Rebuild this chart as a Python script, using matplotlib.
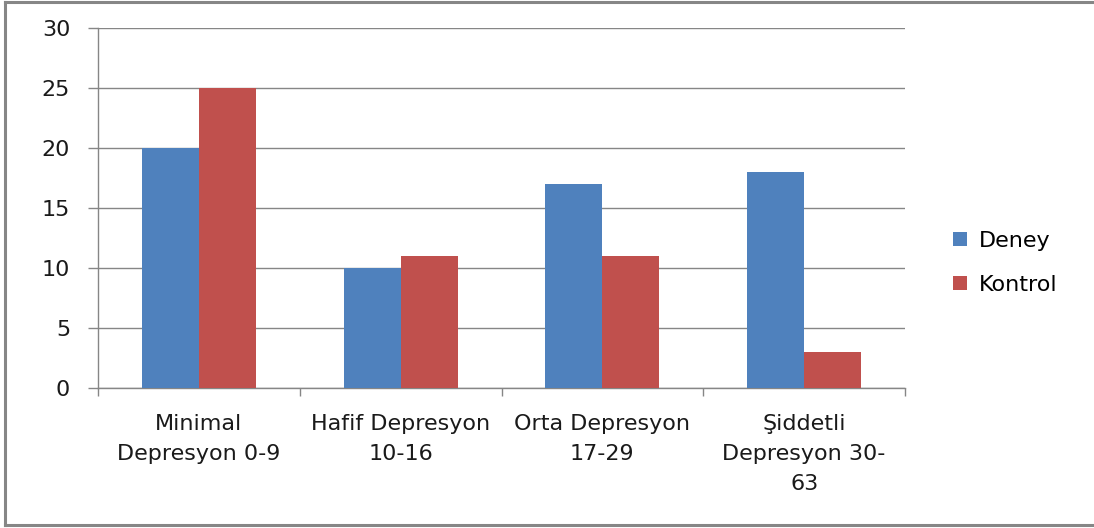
import matplotlib
matplotlib.use("Agg")
import matplotlib.pyplot as plt
from matplotlib.lines import Line2D
from matplotlib.patches import Patch
import numpy as np

categories = ["Minimal\nDepresyon 0-9", "Hafif Depresyon\n10-16", "Orta Depresyon\n17-29",
              "Şiddetli\nDepresyon 30-\n63"]
deney = [20, 10, 17, 18]
kontrol = [25, 11, 11, 3]
series_names = ["Deney", "Kontrol"]
yticks = [0, 5, 10, 15, 20, 25, 30]

blue = "#4F81BD"
red = "#C0504D"
grey = "#868686"
txt = "#1a1a1a"
fs = 16

plt.rcParams["font.family"] = ["DejaVu Sans"]

fig = plt.figure(figsize=(10.94, 5.28), dpi=100)
ax = fig.add_axes([98 / 1094, 1 - 388 / 528, (905 - 98) / 1094, (388 - 28) / 528])

x = np.arange(len(categories))
w = 0.283
ax.bar(x - w / 2, deney, width=w, color=blue, zorder=3)
ax.bar(x + w / 2, kontrol, width=w, color=red, zorder=3)

ax.set_xlim(-0.5, len(categories) - 0.5)
ax.set_ylim(0, 30)
ax.set_yticks(yticks)
ax.set_yticklabels([str(v) for v in yticks], fontsize=fs, color=txt)
ax.yaxis.grid(True, color=grey, linewidth=1.0, zorder=0)

# category boundaries carry the tick marks, labels sit at the centres
ax.set_xticks(np.arange(len(categories) + 1) - 0.5)
ax.set_xticklabels([])
ax.set_xticks(x, minor=True)
ax.set_xticklabels(categories, minor=True, fontsize=fs, color=txt, linespacing=1.6)
ax.tick_params(axis="x", which="major", length=6, color=grey, width=1)
ax.tick_params(axis="x", which="minor", length=0, pad=19)
ax.tick_params(axis="y", length=7, color=grey, width=1, pad=13)

for s in ("top", "right"):
    ax.spines[s].set_visible(False)
for s in ("left", "bottom"):
    ax.spines[s].set_color(grey)
    ax.spines[s].set_linewidth(1.0)

handles = [Patch(facecolor=blue), Patch(facecolor=red)]
fig.legend(handles, series_names, loc="center left", bbox_to_anchor=(0.853, 0.502),
           frameon=False, fontsize=fs, handlelength=0.6, handleheight=0.6,
           handletextpad=0.55, labelspacing=1.05)

# chart frame
fW, fH = 1094, 528
for (x0, y0, x1, y1) in [(5, 2, 1094, 2), (5, 2, 5, 525), (5, 525, 1094, 525)]:
    fig.add_artist(Line2D([x0 / fW, x1 / fW], [1 - y0 / fH, 1 - y1 / fH],
                          transform=fig.transFigure, color=grey, linewidth=2.2))

fig.savefig("out.png", dpi=100)
